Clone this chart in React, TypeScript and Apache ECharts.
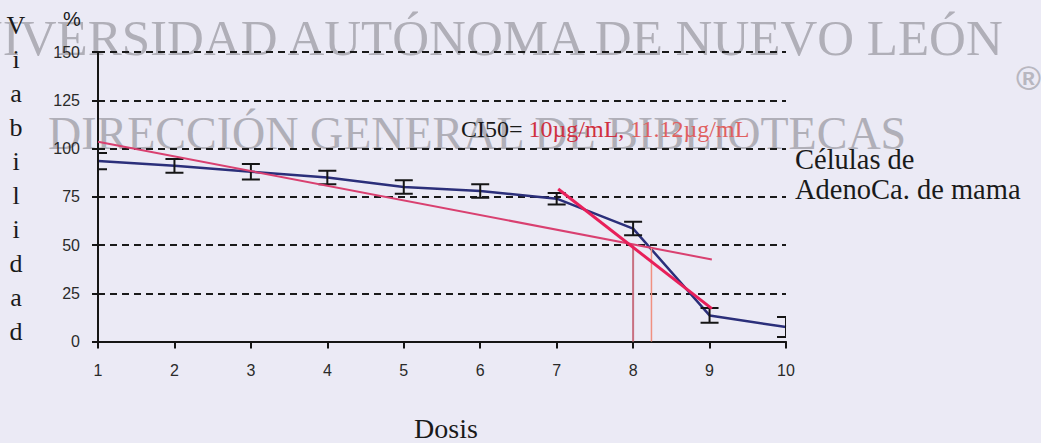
import React, { useEffect, useRef } from "react";
import * as echarts from "echarts";

// ---- data ----
const doses = [1, 2, 3, 4, 5, 6, 7, 8, 9, 10];
const viability = [93.5, 91, 88, 85, 80, 78, 74, 58.5, 13.5, 7.5];
const errorHalf = [4.2, 3.5, 4, 3.5, 3.5, 3.5, 3, 3.5, 3.8, 5.2];
const fitAll = [
  [1, 103.5],
  [9.03, 42.5],
];
const fitSteep = [
  [7.02, 79],
  [9.03, 17],
];
const ci50LineA = [
  [8, 50],
  [8, 0],
];
const ci50LineB = [
  [8.24, 48.5],
  [8.24, 0],
];
const yLabel = "Viabilidad";
const xLabel = "Dosis";
const ciPrefix = "CI50= ";
const ciValueA = "10\u00b5g/mL, ";
const ciValueB = "11.12\u00b5g/mL";
const cellLine1 = "C\u00e9lulas de";
const cellLine2 = "AdenoCa. de mama";
const watermark1 = "UNIVERSIDAD AUT\u00d3NOMA DE NUEVO LE\u00d3N";
const watermark2 = "DIRECCI\u00d3N GENERAL DE BIBLIOTECAS";

const SERIF = '"Liberation Serif", "Times New Roman", serif';
const SANS = '"Liberation Sans", Arial, sans-serif';

function txt(x: number, y: number, text: string, font: string, fill: string, align = "left", vAlign = "middle", extra: any = {}) {
  return {
    type: "text",
    x,
    y,
    silent: true,
    ...extra,
    style: {
      text,
      font,
      fill,
      align,
      textAlign: align,
      verticalAlign: vAlign,
      textVerticalAlign: vAlign,
    },
  };
}

export default function App() {
  const ref = useRef<HTMLDivElement>(null);
  useEffect(() => {
    if (!ref.current) return;
    const chart = echarts.init(ref.current, null, { renderer: "svg" });
    const errData = doses.map((d, i) => [d, viability[i] - errorHalf[i], viability[i] + errorHalf[i]]);
    const option: any = {
      animation: false,
      backgroundColor: "#ebeaf5",
      grid: { left: 98, right: 255, top: 52, bottom: 101.5, containLabel: false },
      xAxis: {
        type: "value",
        min: 1,
        max: 10,
        interval: 1,
        axisLine: { show: true, lineStyle: { color: "#151515", width: 2 } },
        axisTick: { show: true, inside: false, length: 7, lineStyle: { color: "#151515", width: 2 } },
        axisLabel: { fontSize: 16, color: "#2a2a2a", fontFamily: SANS, margin: 21 },
        splitLine: { show: false },
      },
      yAxis: {
        type: "value",
        min: 0,
        max: 150,
        interval: 25,
        axisLine: { show: true, lineStyle: { color: "#151515", width: 2 } },
        axisTick: { show: true, inside: false, length: 6, lineStyle: { color: "#151515", width: 2 } },
        axisLabel: { fontSize: 16, color: "#2a2a2a", fontFamily: SANS, margin: 18 },
        splitLine: { show: true, lineStyle: { color: "#1a1a1a", width: 2, type: [7, 5] } },
      },
      graphic: [
        txt(-71, 38, watermark1, `51px ${SERIF}`, "#b0afb8", "left", "middle", { z: -10 }),
        txt(48, 133, watermark2, `46px ${SERIF}`, "#b0afb8", "left", "middle", { z: -10 }),
        txt(1016, 78, "\u00ae", `bold 34px ${SANS}`, "#b8b7c0", "left", "middle", { z: -10 }),
        {
          type: "text",
          x: 16,
          y: 8,
          silent: true,
          style: {
            text: yLabel.split("").join("\n"),
            font: `26px ${SERIF}`,
            fill: "#1a1a1a",
            align: "center",
            textAlign: "center",
            verticalAlign: "top",
            textVerticalAlign: "top",
            lineHeight: 34,
          },
        },
        txt(72, 19, "%", `20px ${SANS}`, "#1a1a1a", "center"),
        txt(446, 428, xLabel, `28px ${SERIF}`, "#1a1a1a", "center"),
        txt(795, 159.6, cellLine1, `28.5px ${SERIF}`, "#1a1a1a"),
        txt(795, 189.6, cellLine2, `28.5px ${SERIF}`, "#1a1a1a"),
        {
          type: "text",
          x: 461,
          y: 128.8,
          silent: true,
          style: {
            text: `{k|${ciPrefix}}{a|${ciValueA}}{b|${ciValueB}}`,
            font: `24px ${SERIF}`,
            align: "left",
            textAlign: "left",
            verticalAlign: "middle",
            textVerticalAlign: "middle",
            rich: {
              k: { fill: "#1a1a1a", color: "#1a1a1a", font: `24px ${SERIF}` },
              a: { fill: "#d03040", color: "#d03040", font: `24px ${SERIF}` },
              b: { fill: "#e06060", color: "#e06060", font: `24px ${SERIF}` },
            },
          },
        },
      ],
      series: [
        {
          type: "line",
          data: doses.map((d, i) => [d, viability[i]]),
          symbol: "none",
          lineStyle: { color: "#2b2f7a", width: 2.5 },
          z: 2,
        },
        {
          type: "custom",
          clip: true,
          z: 3,
          data: errData,
          encode: { x: 0, y: [1, 2] },
          renderItem: (params: any, api: any) => {
            const x = api.value(0);
            const lo = api.coord([x, api.value(1)]);
            const hi = api.coord([x, api.value(2)]);
            const hw = 9;
            const st = { stroke: "#151515", lineWidth: 2 };
            return {
              type: "group",
              children: [
                { type: "line", shape: { x1: lo[0], y1: lo[1], x2: hi[0], y2: hi[1] }, style: st },
                { type: "line", shape: { x1: hi[0] - hw, y1: hi[1], x2: hi[0] + hw, y2: hi[1] }, style: st },
                { type: "line", shape: { x1: lo[0] - hw, y1: lo[1], x2: lo[0] + hw, y2: lo[1] }, style: st },
              ],
            };
          },
        },
        {
          type: "line",
          data: fitAll,
          symbol: "none",
          lineStyle: { color: "#d94070", width: 2 },
          z: 4,
        },
        {
          type: "line",
          data: fitSteep,
          symbol: "none",
          lineStyle: { color: "#e8205a", width: 3 },
          z: 5,
        },
        {
          type: "line",
          data: ci50LineA,
          symbol: "none",
          lineStyle: { color: "#c87080", width: 2 },
          z: 4,
        },
        {
          type: "line",
          data: ci50LineB,
          symbol: "none",
          lineStyle: { color: "#f09080", width: 1.5 },
          z: 4,
        },
      ],
    };
    chart.setOption(option);
    return () => chart.dispose();
  }, []);
  return <div ref={ref} style={{ position: "fixed", left: 0, top: 0, width: 1041, height: 443 }} />;
}
